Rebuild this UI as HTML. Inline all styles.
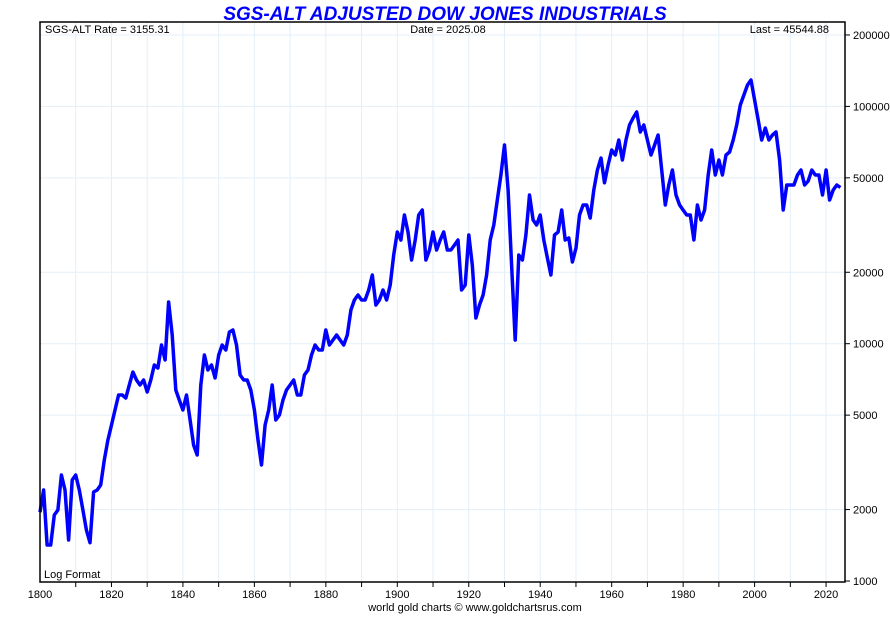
<!DOCTYPE html>
<html><head><meta charset="utf-8">
<style>
html,body{margin:0;padding:0;background:#fff;}
svg{display:block;font-family:"Liberation Sans",Arial,sans-serif;}
</style></head>
<body>
<svg id="chart" width="890" height="625" viewBox="0 0 890 625">
  <text x="445" y="20" text-anchor="middle" font-size="19" font-weight="bold" font-style="italic" fill="#0000ff">SGS-ALT ADJUSTED DOW JONES INDUSTRIALS</text>
  <g id="grid"></g>
  <g id="series"></g>
  <rect x="40" y="22" width="805" height="560" fill="none" stroke="#000" stroke-width="1.5"/>
  <g id="xaxis"></g>
  <g id="yaxis"></g>
  <text x="45" y="33" font-size="11" fill="#000">SGS-ALT Rate = 3155.31</text>
  <text x="448" y="33" font-size="11" text-anchor="middle" fill="#000">Date = 2025.08</text>
  <text x="829" y="33" font-size="11" text-anchor="end" fill="#000">Last = 45544.88</text>
  <text x="44" y="578" font-size="11" fill="#000">Log Format</text>
  <text x="475" y="611" font-size="11" text-anchor="middle" fill="#000">world gold charts © www.goldchartsrus.com</text>
</svg>
<script>
const years = [];
for (let y = 1800; y <= 2025; y++) years.push(y);
const values = [1950,2418,1418,1418,1897,1992,2797,2418,1489,2665,2797,2418,1992,1640,1450,2372,2418,2538,3236,3929,4544,5255,6080,6080,5906,6698,7599,7031,6698,7031,6258,7031,8132,7899,9874,8537,14986,10883,6381,5792,5255,6080,4770,3742,3396,6698,8961,7747,8132,7170,8961,9874,9408,11202,11422,9874,7382,7031,7031,6381,5255,3929,3083,4544,5255,6698,4770,5006,5792,6381,6698,7031,6080,6080,7382,7747,8961,9874,9408,9408,11422,9874,10366,10883,10366,9874,10883,13868,15282,16040,15282,15282,16840,19480,14557,15282,16840,15282,17680,23650,29560,27350,34860,29560,22530,27350,34860,36600,22530,24830,29560,24830,27350,29560,24830,24830,26060,27350,16840,17680,28720,21460,12834,14557,16040,19480,27350,31640,40330,51390,68760,44440,21460,10366,23650,22530,28720,42340,33210,31640,34860,27350,22970,19480,28720,29560,36600,27350,27890,22100,25310,34860,38420,38420,33860,44440,53950,60620,47660,56640,65510,62400,72190,59440,72190,83460,89330,94710,78020,83460,72190,62400,68760,75780,53950,38420,46660,53950,42340,38420,36600,34860,34860,27350,38420,33210,36600,51390,65510,51390,59440,51390,62400,64240,72190,83460,101400,111700,123100,129200,106400,87610,72190,81130,72190,75780,78020,59440,36600,46660,46660,46660,51390,53950,46660,48500,53950,51390,51390,42340,53950,40330,44440,46660,45545];

const NS='http://www.w3.org/2000/svg';
const X0=40, XPY=3.573, YB=581, PPD=237.3;
function xs(yr){return X0+(yr-1800)*XPY;}
function ys(v){return YB-(Math.log10(v)-3)*PPD;}
const grid=document.getElementById('grid');
const xaxis=document.getElementById('xaxis');
const yaxis=document.getElementById('yaxis');

const xTicks=[1800,1820,1840,1860,1880,1900,1920,1940,1960,1980,2000,2020];
for(let yr=1810; yr<=2020; yr+=10){
  const l=document.createElementNS(NS,'line');
  l.setAttribute('x1',xs(yr));l.setAttribute('x2',xs(yr));l.setAttribute('y1',22);l.setAttribute('y2',582);
  l.setAttribute('stroke','#e3eff8');l.setAttribute('stroke-width','1');
  
  
  grid.appendChild(l);
  const t=document.createElementNS(NS,'line');
  t.setAttribute('x1',xs(yr));t.setAttribute('x2',xs(yr));t.setAttribute('y1',582);t.setAttribute('y2',587);
  t.setAttribute('stroke','#000');
  
  
  xaxis.appendChild(t);
}
xTicks.forEach(yr=>{
  const t=document.createElementNS(NS,'text');
  t.setAttribute('x',xs(yr));t.setAttribute('y',598);t.setAttribute('font-size','11');t.setAttribute('text-anchor','middle');
  t.textContent=yr;
  
  
  xaxis.appendChild(t);
});
const yTicks=[1000,2000,5000,10000,20000,50000,100000,200000];
yTicks.forEach(v=>{
  const y=ys(v);
  if(v>1000){
    const l=document.createElementNS(NS,'line');
    l.setAttribute('x1',40);l.setAttribute('x2',845);l.setAttribute('y1',y);l.setAttribute('y2',y);
    l.setAttribute('stroke','#e3eff8');l.setAttribute('stroke-width','1');
    
    
    grid.appendChild(l);
  }
  const tk=document.createElementNS(NS,'line');
  tk.setAttribute('x1',845);tk.setAttribute('x2',850);tk.setAttribute('y1',y);tk.setAttribute('y2',y);
  tk.setAttribute('stroke','#000');
  
  
  yaxis.appendChild(tk);
  const t=document.createElementNS(NS,'text');
  t.setAttribute('x',853);t.setAttribute('y',y+4);t.setAttribute('font-size','11');
  t.textContent=v;
  
  
  yaxis.appendChild(t);
});
const pts=years.map((yr,i)=>xs(yr).toFixed(1)+','+ys(values[i]).toFixed(1)).join(' ');
const pl=document.createElementNS(NS,'polyline');
pl.setAttribute('points',pts);pl.setAttribute('fill','none');pl.setAttribute('stroke','#0000ff');
pl.setAttribute('stroke-width','3.5');pl.setAttribute('stroke-linejoin','round');


document.getElementById('series').appendChild(pl);
</script>
</body></html>
